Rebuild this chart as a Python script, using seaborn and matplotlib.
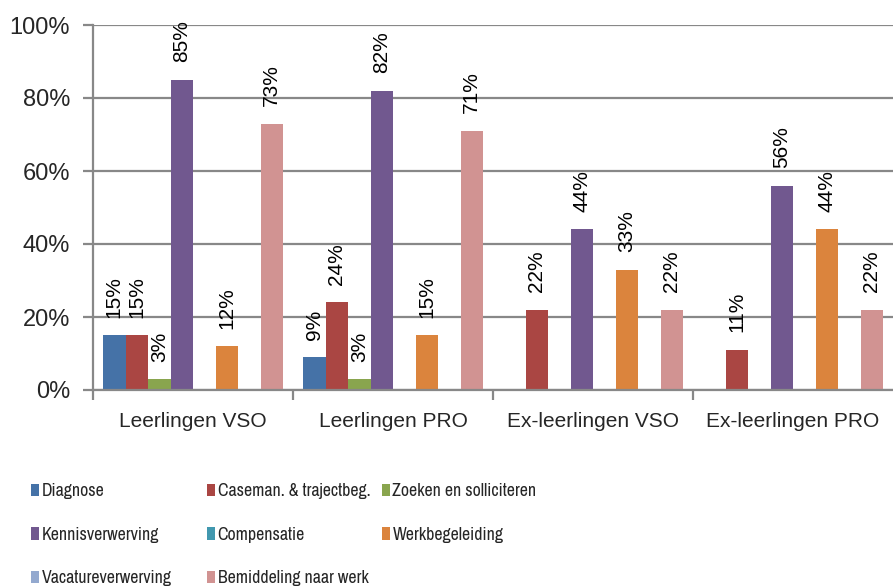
import matplotlib
matplotlib.use("Agg")
import matplotlib.pyplot as plt
import seaborn as sns
import pandas as pd
from matplotlib.patches import Patch
from matplotlib.ticker import FixedLocator
from matplotlib import font_manager as fm

groups = ["Leerlingen VSO", "Leerlingen PRO", "Ex-leerlingen VSO", "Ex-leerlingen PRO"]
series = ["Diagnose", "Caseman. & trajectbeg.", "Zoeken en solliciteren",
          "Kennisverwerving", "Compensatie", "Werkbegeleiding",
          "Vacatureverwerving", "Bemiddeling naar werk"]
diagnose = [15, 9, 0, 0]
caseman = [15, 24, 22, 11]
zoeken = [3, 3, 0, 0]
kennis = [85, 82, 44, 56]
compensatie = [0, 0, 0, 0]
werkbeg = [12, 15, 33, 44]
vacature = [0, 0, 0, 0]
bemiddeling = [73, 71, 22, 22]
colors = ["#4572A7", "#AA4643", "#89A54E", "#71588F",
          "#4198AF", "#DB843D", "#93A9CF", "#D19392"]

values = [diagnose, caseman, zoeken, kennis, compensatie, werkbeg, vacature, bemiddeling]
rows = []
for s, vals in zip(series, values):
    for g, v in zip(groups, vals):
        rows.append({"group": g, "series": s, "value": v / 100.0})
df = pd.DataFrame(rows)

sns.set_theme(style="white")
plt.rcParams['font.family'] = ['Liberation Sans', 'DejaVu Sans']

# look for a narrow face for the legend (prefer "narrow", then "condensed")
narrow_path = None
cond_path = None
for f in fm.fontManager.ttflist:
    nm = f.name.lower()
    st = str(f.stretch).lower()
    if f.style != "normal" or str(f.weight) not in ("400", "normal", "regular"):
        continue
    if "narrow" in nm or "narrow" in st:
        narrow_path = narrow_path or f.fname
    elif "condensed" in nm or "condensed" in st:
        cond_path = cond_path or f.fname
if narrow_path:
    leg_font = fm.FontProperties(fname=narrow_path, size=12.8)
elif cond_path:
    leg_font = fm.FontProperties(fname=cond_path, size=10.5)
else:
    leg_font = fm.FontProperties(family=["Liberation Sans"], size=10.5)
leg_px = leg_font.get_size_in_points() * 100 / 72
leg_spacing = (43.5 - 0.888 * leg_px) / leg_px

fig = plt.figure(figsize=(8.93, 5.87), dpi=100)
ax = fig.add_axes([93/893, 1-390/587, 1-93/893, (390-25)/587])

sns.barplot(data=df, x="group", y="value", hue="series", order=groups,
            hue_order=series, palette=colors, width=0.9, saturation=1,
            errorbar=None, ax=ax, legend=False, edgecolor="none", linewidth=0)

for cont in ax.containers:
    labels = []
    for b in cont:
        h = b.get_height()
        labels.append(f"{round(h*100):d}%" if h > 0 else "")
    ax.bar_label(cont, labels=labels, rotation=90, padding=12.5, fontsize=15, color="#000000")

ax.set_xlim(-0.5, 3.5)
ax.set_ylim(0, 1.0)
ax.set_yticks([0, 0.2, 0.4, 0.6, 0.8, 1.0])
ax.set_yticklabels(["0%", "20%", "40%", "60%", "80%", "100%"], fontsize=17)
ax.yaxis.grid(True, color="#888888", linewidth=1.6)
ax.set_axisbelow(True)
ax.set_xticks(range(4))
ax.set_xticklabels(groups, fontsize=15)
ax.xaxis.set_minor_locator(FixedLocator([-0.5, 0.5, 1.5, 2.5]))
ax.tick_params(axis="x", which="major", length=0, pad=16)
ax.tick_params(axis="x", which="minor", length=7, width=1.6, color="#888888", bottom=True)
ax.tick_params(axis="y", length=7, width=1.6, color="#888888", left=True, pad=9.5)
ax.set_xlabel("")
ax.set_ylabel("")
for side in ["top", "right"]:
    ax.spines[side].set_visible(False)
for side in ["left", "bottom"]:
    ax.spines[side].set_color("#888888")
    ax.spines[side].set_linewidth(1.6)

handles = [Patch(facecolor=c, edgecolor="none") for c in colors]
cols = [[0, 3, 6], [1, 4, 7], [2, 5]]
xs = [31/893, 207/893, 382/893]
for idx, x in zip(cols, xs):
    fig.legend([handles[i] for i in idx], [series[i] for i in idx],
               loc="upper left", bbox_to_anchor=(x, 1-483/587), ncol=1,
               frameon=False, prop=leg_font, handlelength=8 / leg_px,
               handleheight=12 / leg_px, handletextpad=2.5 / leg_px,
               labelspacing=leg_spacing, borderaxespad=0, borderpad=0)

fig.savefig("out.png", dpi=100)
